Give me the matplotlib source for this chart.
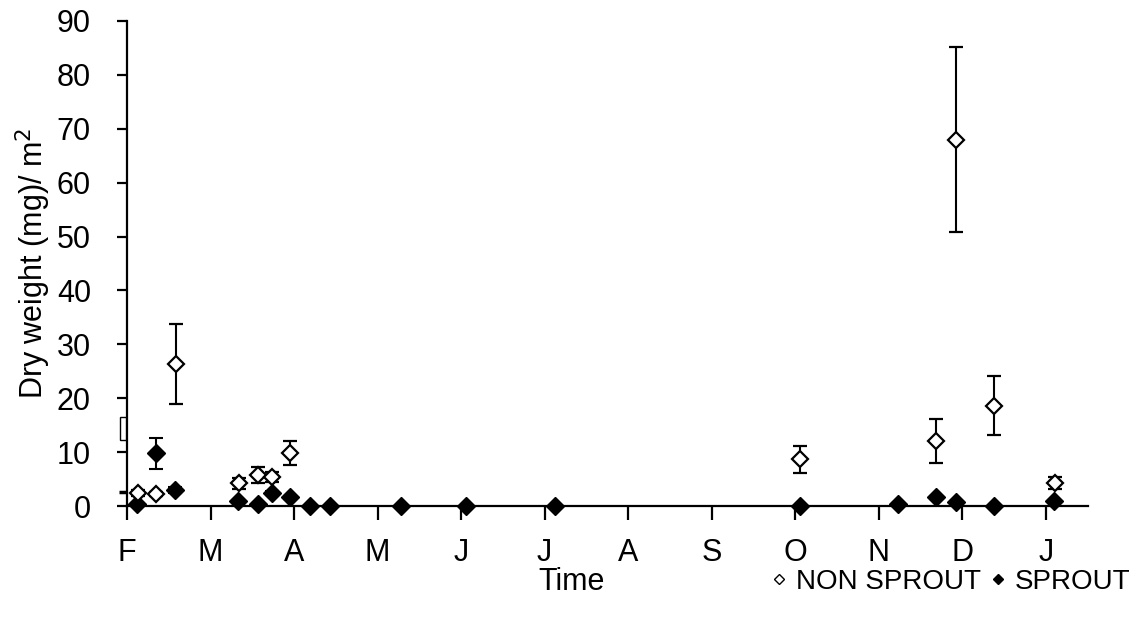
import matplotlib
matplotlib.use("Agg")
import matplotlib.pyplot as plt
from matplotlib.lines import Line2D
from matplotlib.patches import Rectangle

plt.rcParams['font.family'] = ['Liberation Sans', 'DejaVu Sans']

# Month axis labels (one tick per month, Feb .. Jan)
month_labels = ["F", "M", "A", "M", "J", "J", "A", "S", "O", "N", "D", "J"]

# Sampling positions in months after 1 Feb, mean dry weight and error
non_sprout_x = [0.13, 0.35, 0.59, 1.34, 1.57, 1.74, 1.95, 8.06, 9.68, 9.93, 10.38, 11.11]
non_sprout_y = [2.4, 2.2, 26.3, 4.2, 5.7, 5.4, 9.8, 8.7, 12.0, 68.0, 18.6, 4.3]
non_sprout_err = [0.6, 0.4, 7.4, 1.0, 1.5, 1.0, 2.2, 2.5, 4.1, 17.2, 5.5, 1.1]

sprout_x = [0.12, 0.35, 0.57, 1.33, 1.57, 1.74, 1.95, 2.19, 2.43, 3.28, 4.06, 5.13,
            8.06, 9.23, 9.69, 9.93, 10.38, 11.10]
sprout_y = [0.4, 9.8, 3.0, 1.0, 0.4, 2.4, 1.6, 0.0, 0.0, 0.0, 0.0, 0.0,
            0.0, 0.4, 1.6, 0.8, 0.0, 0.9]
sprout_err = [0.2, 2.9, 0.5, 0.2, 0.1, 0.4, 0.3, 0.0, 0.0, 0.0, 0.0, 0.0,
              0.0, 0.2, 0.3, 0.2, 0.0, 0.2]

FS = 22

fig = plt.figure(figsize=(11.4, 6.3), dpi=100)
ax = fig.add_axes([0.1114, 0.1968, 0.8426, 0.7699])

ax.errorbar(sprout_x, sprout_y, yerr=sprout_err, fmt='D', color='black',
            mfc='black', mec='black', ms=9.5, ecolor='black', elinewidth=1.5,
            capsize=5, capthick=1.5, zorder=3, clip_on=False)
ax.errorbar(non_sprout_x, non_sprout_y, yerr=non_sprout_err, fmt='D', color='black',
            mfc='white', mec='black', mew=1.6, ms=8.5, ecolor='black', elinewidth=1.5,
            capsize=5, capthick=1.5, zorder=4, clip_on=False)

# small stray marks left of the value axis
ax.add_patch(Rectangle((-0.085, 12.2), 0.07, 4.3, facecolor='white', edgecolor='black',
                       lw=1.0, clip_on=False, zorder=5))
ax.plot([-0.1, 0.0], [2.6, 2.6], color='black', lw=2.5, clip_on=False, zorder=5,
        solid_capstyle='butt')

ax.set_xlim(0, 11.5)
ax.set_ylim(0, 90)
ax.set_xticks(range(len(month_labels)))
ax.set_xticklabels(month_labels)
ax.set_yticks(range(0, 91, 10))

for s in ['top', 'right']:
    ax.spines[s].set_visible(False)
for s in ['left', 'bottom']:
    ax.spines[s].set_linewidth(1.6)
    ax.spines[s].set_color('black')

ax.tick_params(axis='both', direction='out', width=1.6, length=7, labelsize=FS,
               colors='black')
ax.tick_params(axis='x', length=10, pad=13)
ax.tick_params(axis='y', pad=19)

ax.set_ylabel("Dry weight (mg)/ m$^2$", fontsize=FS, labelpad=3)

fig.text(572 / 1140, 1 - 582 / 630, "Time", fontsize=FS, ha='center', va='center')

handles = [
    Line2D([], [], marker='D', ls='none', mfc='white', mec='black', mew=1.0, ms=5.5),
    Line2D([], [], marker='D', ls='none', mfc='black', mec='black', ms=5.5),
]
fig.legend(handles, ["NON SPROUT", "SPROUT"], loc='center right',
           bbox_to_anchor=(1130 / 1140, 1 - 582 / 630), ncol=2, frameon=False,
           fontsize=20, handlelength=0.6, handletextpad=0.3, columnspacing=0.3,
           borderpad=0, borderaxespad=0)

fig.savefig("out.png", dpi=100)
